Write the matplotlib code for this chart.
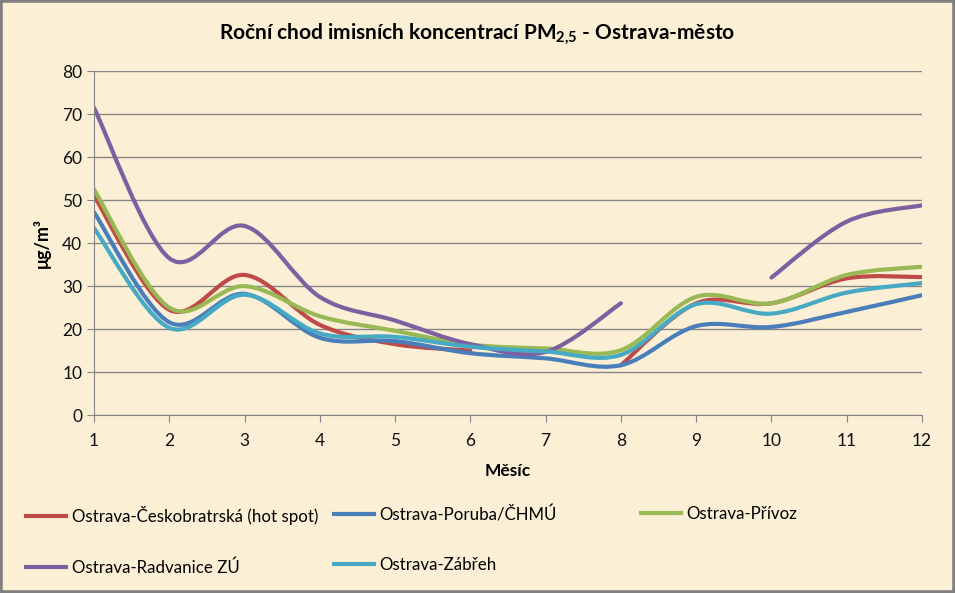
import matplotlib.pyplot as plt
from matplotlib.path import Path
from matplotlib.patches import PathPatch, Rectangle
from matplotlib.lines import Line2D
import numpy as np

plt.rcParams['font.family'] = ['Lato', 'DejaVu Sans']
plt.rcParams['mathtext.fontset'] = 'custom'
plt.rcParams['mathtext.rm'] = 'Lato'
plt.rcParams['mathtext.bf'] = 'Lato:bold'

# data (None = missing month)
months = list(range(1, 13))
ceskobratrska = [51, 24.5, 32.6, 21, 16.5, 15, None, 11.6, 26, 26, 31.8, 32.1]
poruba = [47.2, 21.6, 28.2, 18, 17.2, 14.4, 13.2, 11.6, 20.7, 20.5, 24, 27.9]
privoz = [52.5, 25, 30, 23, 19.6, 16.4, 15.5, 15.1, 27.5, 26, 32.6, 34.5]
radvanice = [71.5, 36.5, 44, 27.5, 22, 16.5, 14.7, 26, None, 32, 45, 48.8]
zabreh = [43.5, 20.3, 28, 19, 18.2, 15.9, 14.8, 14, 25.8, 23.6, 28.5, 30.7]

labels = ["Ostrava-Českobratrská (hot spot)", "Ostrava-Poruba/ČHMÚ", "Ostrava-Přívoz",
          "Ostrava-Radvanice ZÚ", "Ostrava-Zábřeh"]
series = [ceskobratrska, poruba, privoz, radvanice, zabreh]
colors = ["#BE4B48", "#4A7EBB", "#98B954", "#7D60A0", "#46AAC5"]

bg = "#FBEFD6"


def smooth_path(xs, ys):
    # Excel style smoothed line: bezier segments, split at gaps
    verts, codes = [], []
    runs, cur = [], []
    for x, y in zip(xs, ys):
        if y is None:
            if cur:
                runs.append(cur)
            cur = []
        else:
            cur.append((x, y))
    if cur:
        runs.append(cur)
    for run in runs:
        p = np.array(run, dtype=float)
        n = len(p)
        verts.append(p[0]); codes.append(Path.MOVETO)
        for i in range(n - 1):
            p0 = p[i - 1] if i > 0 else p[i]
            p3 = p[i + 2] if i + 2 < n else p[i + 1]
            c1 = p[i] + (p[i + 1] - p0) / 6
            c2 = p[i + 1] - (p3 - p[i]) / 6
            verts += [c1, c2, p[i + 1]]
            codes += [Path.CURVE4] * 3
    return Path(verts, codes)


fig = plt.figure(figsize=(9.55, 5.93), dpi=100, facecolor=bg)
fig.patches.append(Rectangle((0, 0), 1, 1, transform=fig.transFigure, fill=False,
                             edgecolor="#7F7F7F", linewidth=4))
ax = fig.add_axes([0.0984, 0.3, 0.867, 0.58])
ax.set_facecolor("none")

for vals, c in zip(series, colors):
    ax.add_patch(PathPatch(smooth_path(months, vals), facecolor="none", edgecolor=c,
                           linewidth=3, capstyle="round", joinstyle="round"))

ax.set_xlim(1, 12)
ax.set_ylim(0, 80)
ax.set_xticks(months)
ax.set_yticks(range(0, 81, 10))
ax.yaxis.grid(True, color="#868686", linewidth=1)
ax.set_axisbelow(True)
for s in ["top", "right"]:
    ax.spines[s].set_visible(False)
for s in ["left", "bottom"]:
    ax.spines[s].set_color("#868686")
ax.tick_params(axis="both", colors="#868686", labelcolor="#111111", labelsize=12.5, length=5)
ax.tick_params(axis="x", pad=8)

ax.set_xlabel("Měsíc", fontsize=12.5, fontweight="bold", labelpad=10)
ax.set_ylabel("μg/m³", fontsize=13, fontweight="bold", labelpad=8)
fig.text(0.5, 0.944, r"Roční chod imisních koncentrací PM$\mathbf{_{2{,}5}}$ - Ostrava-město",
         ha="center", va="center", fontsize=15, fontweight="bold")

handles = [Line2D([], [], color=c, linewidth=3) for c in colors]
cols = [[0, 3], [1, 4], [2]]
xpos = [0.0272, 0.3497, 0.671]
for idx, xp in zip(cols, xpos):
    leg = fig.legend([handles[i] for i in idx], [labels[i] for i in idx],
                     loc="upper left", bbox_to_anchor=(xp, 0.146), frameon=False,
                     fontsize=12.2, handlelength=2.35, handletextpad=0.35, labelspacing=2.0,
                     borderaxespad=0, borderpad=0)

fig.savefig("out.png", dpi=100, facecolor=bg)
